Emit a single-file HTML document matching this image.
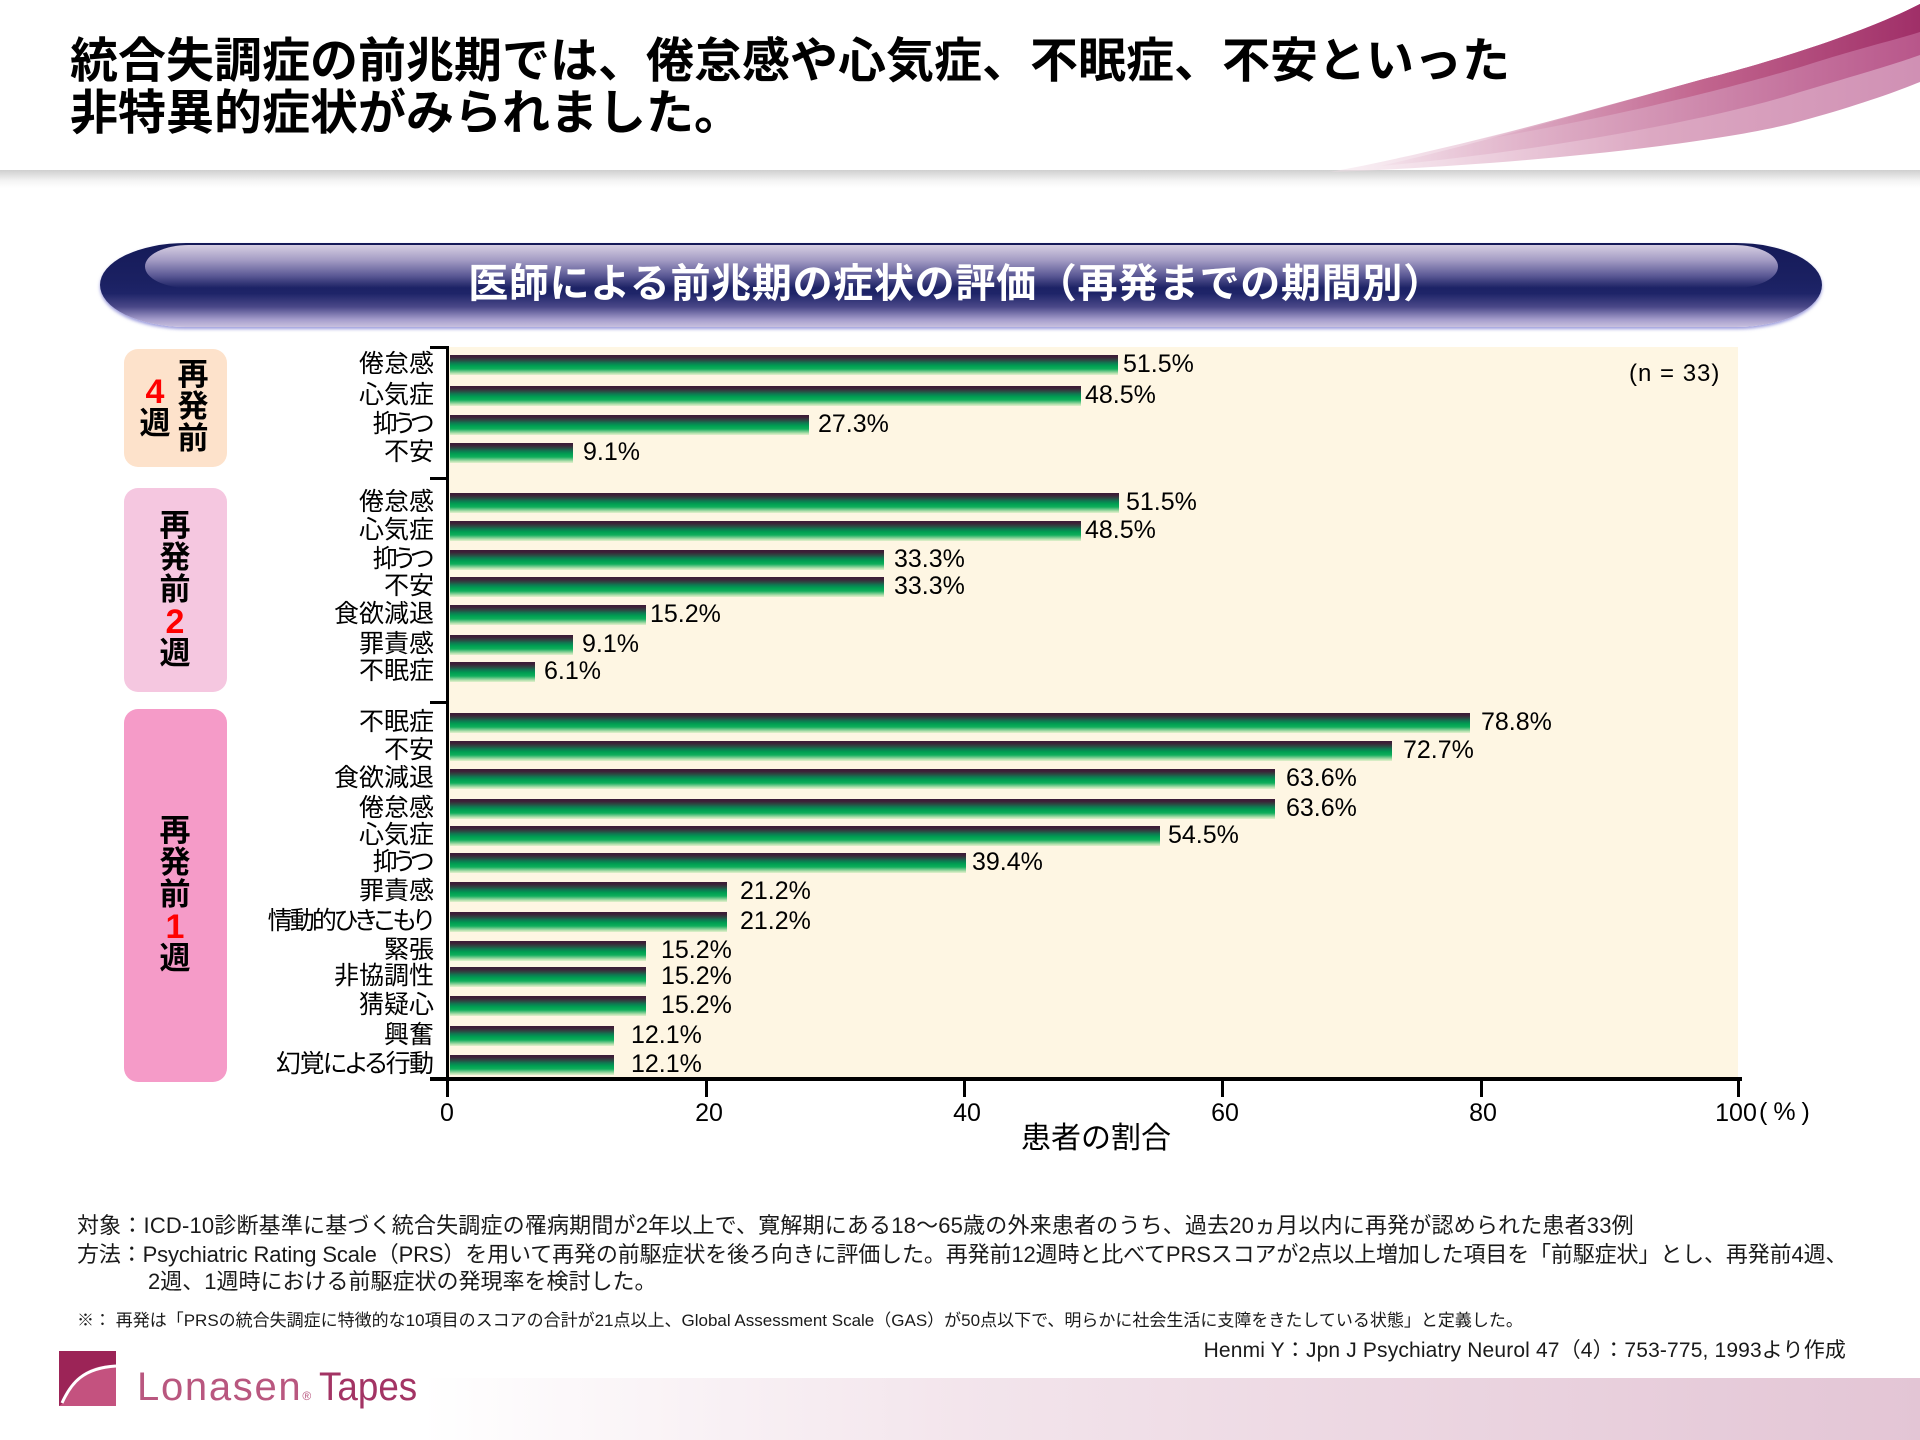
<!DOCTYPE html>
<html lang="ja">
<head>
<meta charset="utf-8">
<style>
  html,body{margin:0;padding:0;}
  body{width:1920px;height:1440px;position:relative;overflow:hidden;background:#fff;
       font-family:"Liberation Sans","Noto Sans CJK JP",sans-serif;color:#000;}
  .a{position:absolute;white-space:nowrap;}
  .bar{position:absolute;left:450px;height:20px;
       background:linear-gradient(to bottom,#3a1a36 0%,#3d2238 12%,#2c4a42 26%,#0e7a52 40%,#00a052 55%,#10ae5c 70%,#6cc88a 82%,#b8e2b0 92%,#e2f0cc 100%);}
  .val{position:absolute;font-family:"Liberation Sans",sans-serif;font-size:25px;line-height:25px;white-space:nowrap;}
  .lab{position:absolute;right:1486px;font-size:25px;line-height:25px;white-space:nowrap;
       font-family:"Liberation Sans","Noto Sans CJK JP",sans-serif;font-feature-settings:"palt";}
  .box{position:absolute;left:124px;width:103px;border-radius:14px;}
  .vc{position:absolute;width:40px;text-align:center;font-weight:700;font-size:31px;line-height:32px;
      font-family:"Liberation Sans","Noto Sans CJK JP",sans-serif;}
  .red{color:#ff0000;font-family:"Liberation Sans",sans-serif;font-size:34px;font-weight:700;}
  .tick{position:absolute;top:1079px;width:3px;height:18px;background:#000;}
  .tl{position:absolute;top:1101px;font-size:25px;line-height:25px;font-family:"Liberation Sans",sans-serif;width:60px;text-align:center;}
  .gt{position:absolute;left:430px;width:18px;height:3px;background:#000;}
  .ft{position:absolute;left:77px;font-size:22px;line-height:27px;white-space:nowrap;color:#1a1a1a;
      font-family:"Liberation Sans","Noto Sans CJK JP",sans-serif;}
</style>
</head>
<body>

<!-- header shadow -->
<div class="a" style="left:0;top:170px;width:1920px;height:18px;background:linear-gradient(#cfcfcf,#f4f4f4 60%,#fff);"></div>
<div class="a" style="left:0;top:0;width:1920px;height:170px;background:#fff;"></div>

<!-- swoosh -->
<svg class="a" style="left:0;top:0;" width="1920" height="200" viewBox="0 0 1920 200">
  <defs>
    <linearGradient id="gA" x1="1250" y1="0" x2="1920" y2="0" gradientUnits="userSpaceOnUse">
      <stop offset="0" stop-color="#f4e2ea" stop-opacity="0"/>
      <stop offset="0.3" stop-color="#f0d8e4"/>
      <stop offset="0.6" stop-color="#dca8c2"/>
      <stop offset="1" stop-color="#d090b4"/>
    </linearGradient>
    <linearGradient id="gB" x1="1350" y1="0" x2="1920" y2="0" gradientUnits="userSpaceOnUse">
      <stop offset="0" stop-color="#e8c4d6" stop-opacity="0"/>
      <stop offset="0.44" stop-color="#d8a0bc"/>
      <stop offset="1" stop-color="#b8568a"/>
    </linearGradient>
    <linearGradient id="gC" x1="1450" y1="0" x2="1920" y2="0" gradientUnits="userSpaceOnUse">
      <stop offset="0" stop-color="#d8a0bc" stop-opacity="0"/>
      <stop offset="0.53" stop-color="#c2668f"/>
      <stop offset="1" stop-color="#a02f68"/>
    </linearGradient>
  </defs>
  <path d="M1920,4 C1860,35 1760,65 1700,80 C1600,108 1450,150 1330,172 C1500,166 1700,146 1790,124 C1850,108 1890,94 1920,82 Z" fill="url(#gA)"/>
  <path d="M1920,4 C1860,35 1760,65 1700,80 C1600,108 1470,146 1380,166 C1540,152 1720,118 1800,92 C1860,74 1895,64 1920,55 Z" fill="url(#gB)"/>
  <path d="M1920,4 C1860,35 1760,65 1700,80 C1620,102 1540,124 1480,140 C1620,116 1740,86 1810,64 C1860,48 1895,40 1920,32 Z" fill="url(#gC)"/>
</svg>

<!-- title -->
<div class="a" style="left:70px;top:36px;font-size:48px;line-height:52px;font-weight:700;color:#000;">統合失調症の前兆期では、倦怠感や心気症、不眠症、不安といった<br>非特異的症状がみられました。</div>

<!-- pill banner -->
<div class="a" style="left:100px;top:243px;width:1722px;height:84px;border-radius:86px/42px;background:linear-gradient(#151a58 0%,#1b2163 48%,#1e2468 60%,#4a4888 76%,#a49ccb 91%,#c8c0de 100%);box-shadow:0 2px 3px rgba(70,70,190,.55);"></div>
<div class="a" style="left:145px;top:245px;width:1633px;height:43px;border-radius:45px/22px;background:linear-gradient(#d6cee2 0%,#a49cc4 35%,#5a5894 72%,rgba(30,36,104,0) 100%);"></div>
<div class="a" style="left:0;top:264px;width:1912px;text-align:center;font-size:40px;line-height:40px;font-weight:700;color:#fff;letter-spacing:0.7px;">医師による前兆期の症状の評価（再発までの期間別）</div>

<!-- left category boxes -->
<div class="box" style="top:349px;height:118px;background:#fde2cb;"></div>
<div class="box" style="top:488px;height:204px;background:#f5c7e0;"></div>
<div class="box" style="top:709px;height:373px;background:#f59bc8;"></div>

<!-- box 1 text -->
<div class="vc" style="left:173px;top:359px;">再</div>
<div class="vc" style="left:173px;top:391px;">発</div>
<div class="vc" style="left:173px;top:423px;">前</div>
<div class="vc red" style="left:135px;top:376px;">4</div>
<div class="vc" style="left:135px;top:408px;">週</div>

<!-- box 2 text -->
<div class="vc" style="left:155px;top:510px;">再</div>
<div class="vc" style="left:155px;top:542px;">発</div>
<div class="vc" style="left:155px;top:574px;">前</div>
<div class="vc red" style="left:155px;top:606px;">2</div>
<div class="vc" style="left:155px;top:638px;">週</div>

<!-- box 3 text -->
<div class="vc" style="left:155px;top:815px;">再</div>
<div class="vc" style="left:155px;top:847px;">発</div>
<div class="vc" style="left:155px;top:879px;">前</div>
<div class="vc red" style="left:155px;top:911px;">1</div>
<div class="vc" style="left:155px;top:943px;">週</div>

<!-- plot background -->
<div class="a" style="left:449px;top:347px;width:1289px;height:731px;background:#fef6e3;"></div>

<!-- bars group 1 -->
<div class="bar" style="top:355px;width:668px;"></div>
<div class="bar" style="top:386px;width:631px;"></div>
<div class="bar" style="top:415px;width:359px;"></div>
<div class="bar" style="top:443px;width:123px;"></div>
<!-- group 2 -->
<div class="bar" style="top:493px;width:669px;"></div>
<div class="bar" style="top:521px;width:631px;"></div>
<div class="bar" style="top:550px;width:434px;"></div>
<div class="bar" style="top:577px;width:434px;"></div>
<div class="bar" style="top:605px;width:196px;"></div>
<div class="bar" style="top:635px;width:123px;"></div>
<div class="bar" style="top:662px;width:85px;"></div>
<!-- group 3 -->
<div class="bar" style="top:713px;width:1020px;"></div>
<div class="bar" style="top:741px;width:942px;"></div>
<div class="bar" style="top:769px;width:825px;"></div>
<div class="bar" style="top:799px;width:825px;"></div>
<div class="bar" style="top:826px;width:710px;"></div>
<div class="bar" style="top:853px;width:516px;"></div>
<div class="bar" style="top:882px;width:277px;"></div>
<div class="bar" style="top:912px;width:277px;"></div>
<div class="bar" style="top:941px;width:196px;"></div>
<div class="bar" style="top:967px;width:196px;"></div>
<div class="bar" style="top:996px;width:196px;"></div>
<div class="bar" style="top:1026px;width:164px;"></div>
<div class="bar" style="top:1055px;width:164px;"></div>

<!-- value labels -->
<div class="val" style="left:1123px;top:352px;">51.5%</div>
<div class="val" style="left:1085px;top:383px;">48.5%</div>
<div class="val" style="left:818px;top:412px;">27.3%</div>
<div class="val" style="left:583px;top:440px;">9.1%</div>

<div class="val" style="left:1126px;top:490px;">51.5%</div>
<div class="val" style="left:1085px;top:518px;">48.5%</div>
<div class="val" style="left:894px;top:547px;">33.3%</div>
<div class="val" style="left:894px;top:574px;">33.3%</div>
<div class="val" style="left:650px;top:602px;">15.2%</div>
<div class="val" style="left:582px;top:632px;">9.1%</div>
<div class="val" style="left:544px;top:659px;">6.1%</div>

<div class="val" style="left:1481px;top:710px;">78.8%</div>
<div class="val" style="left:1403px;top:738px;">72.7%</div>
<div class="val" style="left:1286px;top:766px;">63.6%</div>
<div class="val" style="left:1286px;top:796px;">63.6%</div>
<div class="val" style="left:1168px;top:823px;">54.5%</div>
<div class="val" style="left:972px;top:850px;">39.4%</div>
<div class="val" style="left:740px;top:879px;">21.2%</div>
<div class="val" style="left:740px;top:909px;">21.2%</div>
<div class="val" style="left:661px;top:938px;">15.2%</div>
<div class="val" style="left:661px;top:964px;">15.2%</div>
<div class="val" style="left:661px;top:993px;">15.2%</div>
<div class="val" style="left:631px;top:1023px;">12.1%</div>
<div class="val" style="left:631px;top:1052px;">12.1%</div>

<!-- n label -->
<div class="a" style="left:1629px;top:362px;font-size:24px;line-height:24px;letter-spacing:1px;font-family:'Liberation Sans',sans-serif;">(n = 33)</div>

<!-- category labels -->
<div class="lab" style="top:352px;">倦怠感</div>
<div class="lab" style="top:383px;">心気症</div>
<div class="lab" style="top:412px;right:1490px;letter-spacing:-4px;">抑うつ</div>
<div class="lab" style="top:440px;">不安</div>

<div class="lab" style="top:490px;">倦怠感</div>
<div class="lab" style="top:518px;">心気症</div>
<div class="lab" style="top:547px;right:1490px;letter-spacing:-4px;">抑うつ</div>
<div class="lab" style="top:574px;">不安</div>
<div class="lab" style="top:602px;">食欲減退</div>
<div class="lab" style="top:632px;">罪責感</div>
<div class="lab" style="top:659px;">不眠症</div>

<div class="lab" style="top:710px;">不眠症</div>
<div class="lab" style="top:738px;">不安</div>
<div class="lab" style="top:766px;">食欲減退</div>
<div class="lab" style="top:796px;">倦怠感</div>
<div class="lab" style="top:823px;">心気症</div>
<div class="lab" style="top:850px;right:1490px;letter-spacing:-4px;">抑うつ</div>
<div class="lab" style="top:879px;">罪責感</div>
<div class="lab" style="top:909px;right:1489px;letter-spacing:-2.9px;">情動的ひきこもり</div>
<div class="lab" style="top:938px;">緊張</div>
<div class="lab" style="top:964px;">非協調性</div>
<div class="lab" style="top:993px;">猜疑心</div>
<div class="lab" style="top:1023px;">興奮</div>
<div class="lab" style="top:1052px;right:1487.6px;letter-spacing:-1.6px;">幻覚による行動</div>

<!-- axes -->
<div class="a" style="left:446px;top:346px;width:3px;height:751px;background:#000;"></div>
<div class="gt" style="top:346px;"></div>
<div class="gt" style="top:477px;"></div>
<div class="gt" style="top:701px;"></div>
<div class="a" style="left:430px;top:1077px;width:1312px;height:4px;background:#000;"></div>
<div class="tick" style="left:705px;"></div>
<div class="tick" style="left:963px;"></div>
<div class="tick" style="left:1221px;"></div>
<div class="tick" style="left:1480px;"></div>
<div class="tick" style="left:1737px;"></div>

<div class="tl" style="left:417px;">0</div>
<div class="tl" style="left:679px;">20</div>
<div class="tl" style="left:937px;">40</div>
<div class="tl" style="left:1195px;">60</div>
<div class="tl" style="left:1453px;">80</div>
<div class="tl" style="left:1706px;">100</div>
<div class="a" style="left:1759px;top:1100px;font-size:25px;line-height:25px;letter-spacing:6px;font-family:'Liberation Sans',sans-serif;">(%)</div>

<div class="a" style="left:1016px;top:1124px;width:160px;text-align:center;font-size:30px;line-height:30px;">患者の割合</div>

<!-- footnotes -->
<div class="ft" style="top:1212px;letter-spacing:0.18px;">対象：ICD-10診断基準に基づく統合失調症の罹病期間が2年以上で、寛解期にある18～65歳の外来患者のうち、過去20ヵ月以内に再発が認められた患者33例</div>
<div class="ft" style="top:1241px;letter-spacing:-0.13px;">方法：Psychiatric Rating Scale（PRS）を用いて再発の前駆症状を後ろ向きに評価した。再発前12週時と比べてPRSスコアが2点以上増加した項目を「前駆症状」とし、再発前4週、</div>
<div class="ft" style="top:1268px;left:148px;">2週、1週時における前駆症状の発現率を検討した。</div>

<div class="a" style="left:77px;top:1312px;font-size:17px;line-height:17px;color:#1a1a1a;">※： 再発は「PRSの統合失調症に特徴的な10項目のスコアの合計が21点以上、Global Assessment Scale（GAS）が50点以下で、明らかに社会生活に支障をきたしている状態」と定義した。</div>
<div class="a" style="right:74px;top:1340px;font-size:21px;line-height:21px;letter-spacing:0.15px;color:#1a1a1a;">Henmi Y：Jpn J Psychiatry Neurol 47（4）：753-775, 1993より作成</div>

<!-- footer band -->
<div class="a" style="left:0;top:1378px;width:1920px;height:62px;background:linear-gradient(to right,#fff 0%,#fff 22%,#f3e5ec 50%,#e3c5d5 100%);"></div>

<!-- logo -->
<svg class="a" style="left:59px;top:1351px;" width="57" height="55" viewBox="0 0 57 55">
  <rect width="57" height="55" fill="#c4527f"/>
  <path d="M0,0 H57 V14 C30,14 16,24 4,52 L0,55 Z" fill="#9c2457"/>
  <path d="M3,52 C12,32 24,17 57,15" fill="none" stroke="#fff" stroke-width="3"/>
</svg>
<div class="a" style="left:137px;top:1367px;font-size:40px;line-height:40px;font-family:'Liberation Sans',sans-serif;">
  <span style="color:#b9577f;letter-spacing:1.7px;">Lonasen</span><span style="color:#b9577f;font-size:12px;">®</span><span style="display:inline-block;color:#a33464;margin-left:8px;transform:scaleX(0.92);transform-origin:left center;">Tapes</span>
</div>

</body>
</html>
